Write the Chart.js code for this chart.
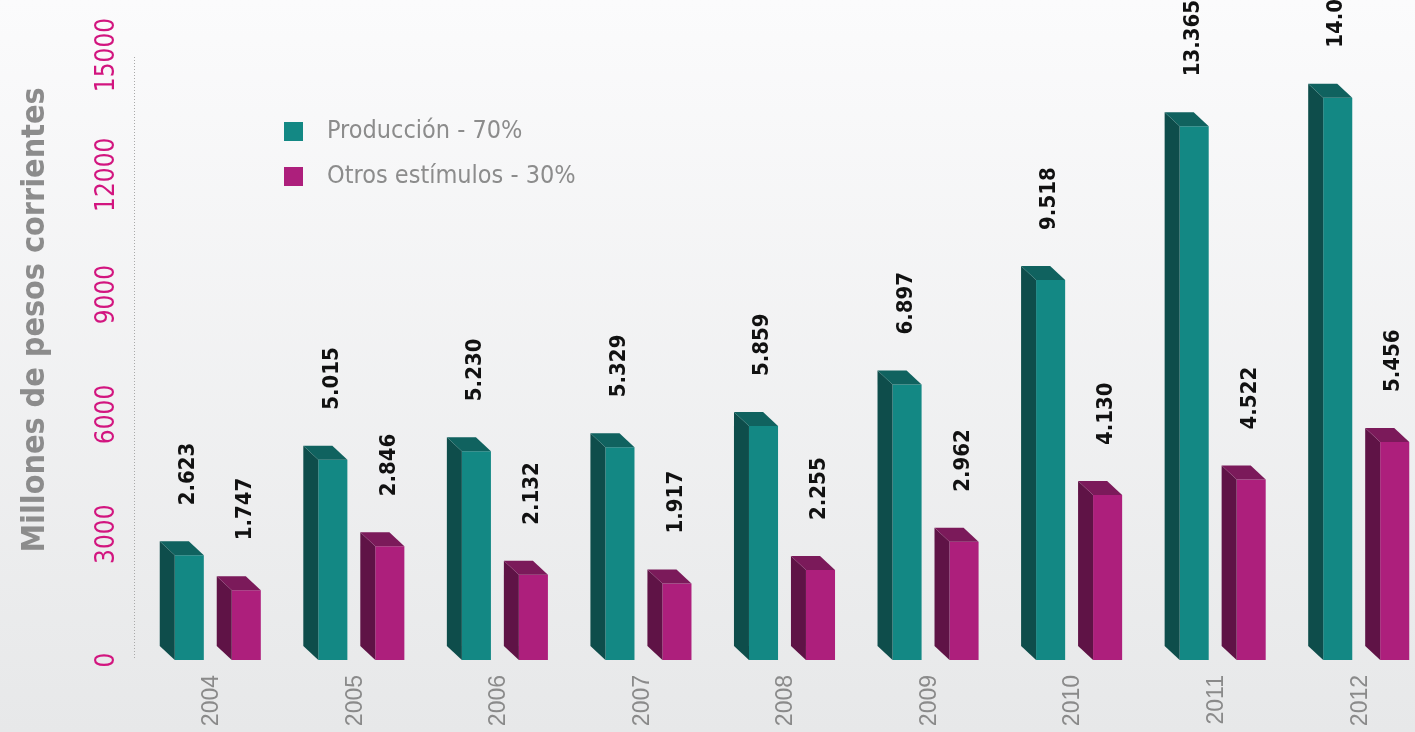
<!DOCTYPE html>
<html>
<head>
<meta charset="utf-8">
<script src="https://cdn.jsdelivr.net/npm/chart.js@4.4.0/dist/chart.umd.min.js"></script>
<style>
    html, body { margin: 0; padding: 0; overflow: hidden; }
    body { width: 1415px; height: 732px; background: linear-gradient(#fbfbfc, #e7e8e9); }
    #wrap { width: 1415px; height: 732px; overflow: hidden; }
</style>
</head>
<body>
<div id="wrap"><canvas id="chart" width="1438" height="732"></canvas></div>
<script>
const years = ['2004', '2005', '2006', '2007', '2008', '2009', '2010', '2011', '2012'];
const produccion = [2623, 5015, 5230, 5329, 5859, 6897, 9518, 13365, 14080];
const otros = [1747, 2846, 2132, 1917, 2255, 2962, 4130, 4522, 5456];
const yTicks = [0, 3000, 6000, 9000, 12000, 15000];
const yTitle = 'Millones de pesos corrientes';
const legendLabels = ['Producción - 70%', 'Otros estímulos - 30%'];

const narrow = "'Liberation Sans Narrow', 'DejaVu Sans Condensed', sans-serif";

// colores: frente, lado, techo
const shades = [
    { front: '#138884', side: '#0e4d4b', top: '#10625f' },
    { front: '#ad1f7c', side: '#5f1346', top: '#7b1a5a' }
];

function fmt(v) {
    return String(v).replace(/\B(?=(\d{3})+(?!\d))/g, '.');
}

// barras 3D, etiquetas, eje y y leyenda
const bar3d = {
    id: 'bar3d',
    beforeDatasetsDraw(chart) {
        const ctx = chart.ctx;
        const y = chart.scales.y;
        const area = chart.chartArea;

        // linea punteada del eje
        ctx.save();
        ctx.strokeStyle = '#a9a9a9';
        ctx.lineWidth = 1;
        ctx.setLineDash([1, 2]);
        ctx.beginPath();
        ctx.moveTo(area.left - 11.5, y.getPixelForValue(15000) - 4);
        ctx.lineTo(area.left - 11.5, y.getPixelForValue(0));
        ctx.stroke();
        ctx.restore();

        // ticks del eje y
        ctx.save();
        ctx.fillStyle = '#d2157f';
        ctx.font = '26px ' + narrow;
        ctx.textAlign = 'center';
        ctx.textBaseline = 'middle';
        yTicks.forEach(t => {
            ctx.save();
            ctx.translate(107, y.getPixelForValue(t) - (t > 0 ? 6 : 0));
            ctx.rotate(-Math.PI / 2);
            ctx.fillText(String(t), 0, 0);
            ctx.restore();
        });
        ctx.restore();

        // titulo del eje y
        ctx.save();
        ctx.fillStyle = '#8c8c8c';
        ctx.font = 'bold 32px ' + narrow;
        ctx.textAlign = 'center';
        ctx.textBaseline = 'middle';
        ctx.translate(36, 320);
        ctx.rotate(-Math.PI / 2);
        ctx.fillText(yTitle, 0, 0);
        ctx.restore();

        // leyenda
        ctx.save();
        ctx.font = '25px ' + narrow;
        ctx.textBaseline = 'middle';
        legendLabels.forEach((lbl, i) => {
            const cy = 131 + i * 45;
            ctx.fillStyle = shades[i].front;
            ctx.fillRect(284, cy - 9, 19, 19);
            ctx.fillStyle = '#8c8c8c';
            ctx.fillText(lbl, 327, cy);
        });
        ctx.restore();
    },
    afterDatasetsDraw(chart) {
        const ctx = chart.ctx;
        const dx = 15, dy = 14;
        chart.data.datasets.forEach((ds, di) => {
            const meta = chart.getDatasetMeta(di);
            meta.data.forEach((bar, i) => {
                const left = bar.x - bar.width / 2;
                const right = bar.x + bar.width / 2;
                // lado
                ctx.fillStyle = shades[di].side;
                ctx.beginPath();
                ctx.moveTo(left, bar.y);
                ctx.lineTo(left - dx, bar.y - dy);
                ctx.lineTo(left - dx, bar.base - dy);
                ctx.lineTo(left, bar.base);
                ctx.closePath();
                ctx.fill();
                // techo
                ctx.fillStyle = shades[di].top;
                ctx.beginPath();
                ctx.moveTo(left, bar.y);
                ctx.lineTo(left - dx, bar.y - dy);
                ctx.lineTo(right - dx, bar.y - dy);
                ctx.lineTo(right, bar.y);
                ctx.closePath();
                ctx.fill();
                // valor
                ctx.save();
                ctx.fillStyle = '#111';
                ctx.font = 'bold 22px ' + narrow;
                ctx.textAlign = 'left';
                ctx.textBaseline = 'middle';
                ctx.translate(bar.x - 1, bar.y - 50);
                ctx.rotate(-Math.PI / 2);
                ctx.fillText(fmt(ds.data[i]), 0, 0);
                ctx.restore();
            });
        });
    }
};

const ctx = document.getElementById('chart').getContext('2d');
const chart = new Chart(ctx, {
    type: 'bar',
    data: {
        labels: years,
        datasets: [{
            label: legendLabels[0],
            data: produccion,
            backgroundColor: shades[0].front,
            borderWidth: 0,
            categoryPercentage: 0.794,
            barPercentage: 0.51
        }, {
            label: legendLabels[1],
            data: otros,
            backgroundColor: shades[1].front,
            borderWidth: 0,
            categoryPercentage: 0.794,
            barPercentage: 0.51
        }]
    },
    options: {
        responsive: false,
        animation: false,
        layout: {
            padding: { top: 61, right: 0, left: 0, bottom: 0 }
        },
        plugins: {
            legend: { display: false },
            tooltip: { enabled: false }
        },
        scales: {
            x: {
                grid: { display: false },
                border: { display: false },
                ticks: {
                    color: '#8a8a8a',
                    font: { family: "'Liberation Sans', Arial, sans-serif", size: 23 },
                    minRotation: 90,
                    maxRotation: 90,
                    labelOffset: -6,
                    padding: 7
                },
                afterFit: (scale) => { scale.height = 72; }
            },
            y: {
                min: 0,
                max: 15000,
                grid: { display: false },
                border: { display: false },
                ticks: { display: false },
                afterFit: (scale) => { scale.width = 146; }
            }
        }
    },
    plugins: [bar3d]
});
</script>
</body>
</html>
